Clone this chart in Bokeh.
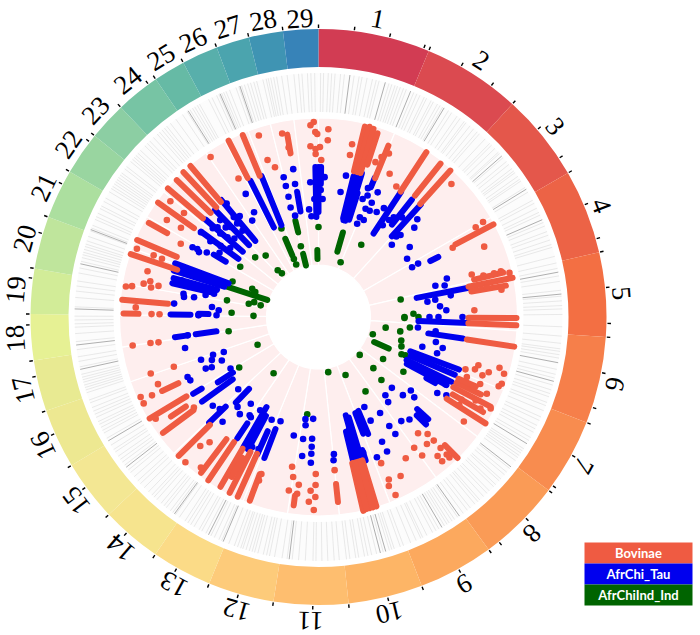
import numpy as np
from bokeh.plotting import figure
from bokeh.models import Range1d
from bokeh.core.properties import value
from bokeh.embed import file_html
from bokeh.resources import INLINE

# Chromosomes: end of each, in degrees clockwise from the top of the circle
chrom_names = [str(i) for i in range(1, 30)]
chrom_end = [22.5,42.3,60,77,94,111.5,127,143.8,159,174,189,202.3,214.5,226.7,239,251,261.3,270.6,279.7,
             290.3,300.3,309,316.7,325.6,332,339.3,346,352.9,360]
chrom_color = ["#D23C53","#DB4A50","#E4574B","#EC6346","#F36F43","#F67F4A","#F88C4F","#FA9B56","#FCA95E","#FDB566",
               "#FEBE6F","#FDCB7A","#FBDB87","#F6E48E","#F3E793","#EDE891","#E8EA92","#E6F194","#D2EC98","#BFE59C",
               "#ACDF9F","#99D5A0","#8CCEA3","#77C4A4","#66BAA5","#58AFAB","#4BA4AE","#3F94B3","#3783B8"]
tick_step = 7.13
label_radius = [304]*27 + [302, 299]

# Density track: positions in degrees
track_light = [0.5,1.2,2.3,3.1,3.9,5.2,6.1,8.4,9.6,10.3,11.5,12.8,13.7,14.4,16.8,17.5,18.3,18.9,19.6,20.4,21.1,23.0,23.8,24.6,
    25.7,26.3,27.5,28.1,29.2,29.9,30.6,32.2,33.1,34.6,35.5,36.7,37.2,38.4,39.5,40.6,41.3,43.1,44.6,45.2,46.3,47.5,47.9,49.2,50.4,
    51.3,52.5,53.2,53.7,54.8,55.6,56.1,57.9,59.2,61.4,62.2,63.5,64.6,65.3,67.2,68.1,69.5,70.4,71.6,72.7,73.4,75.6,77.2,78.5,80.3,
    81.6,83.7,85.1,86.2,87.3,88.1,89.4,92.3,94.5,96.2,97.5,98.1,98.9,99.7,102.4,103.6,104.5,106.2,107.4,108.3,109.1,110.5,111.3,
    112.6,114.2,115.1,116.4,117.3,118.2,119.6,120.4,122.7,123.3,123.9,124.6,125.2,126.1,128.4,129.5,130.3,131.6,132.2,133.4,134.1,
    135.5,136.3,137.4,138.6,139.2,140.1,141.5,142.4,143.6,145.2,146.1,146.8,147.6,148.2,148.9,150.4,151.2,152.1,153.6,154.7,155.2,
    156.4,157.8,159.6,160.4,161.9,162.5,163.1,164.6,166.2,167.4,168.3,169.1,170.5,171.2,172.6,173.4,175.1,176.3,177.8,179.2,180.6,
    181.3,183.1,184.7,186.2,187.4,188.6,190.4,191.6,192.3,193.1,194.4,195.2,195.8,196.5,197.3,198.1,198.6,199.4,200.2,201.6,203.4,
    204.1,205.3,206.2,207.5,208.6,209.3,210.7,211.6,212.4,213.2,214.8,215.9,216.7,217.4,218.6,219.3,220.2,221.5,222.4,223.1,224.2,
    225.6,226.9,227.8,229.1,230.4,231.2,232.6,233.5,234.3,235.2,236.4,237.1,238.3,240.2,241.6,242.3,243.1,243.9,244.6,245.7,246.5,
    247.3,248.2,249.4,250.1,251.9,252.6,253.2,253.8,254.5,255.1,255.7,256.4,258.2,259.5,260.6,262.3,264.2,266.1,267.6,268.4,269.3,
    270.2,272.4,274.6,276.1,277.3,278.5,280.4,281.6,283.2,284.1,284.8,285.4,286.1,286.8,287.4,288.2,289.3,290.7,291.4,292.1,293.6,
    294.3,295.2,296.4,297.1,298.3,299.2,300.9,301.8,302.4,303.1,303.7,304.3,304.9,305.6,306.2,307.4,308.1,309.6,310.3,310.9,311.5,
    312.2,313.1,314.6,315.4,316.2,317.4,318.6,319.3,320.1,320.8,321.5,322.6,324.2,326.1,327.4,328.2,328.9,329.5,330.2,330.8,333.2,
    334.1,335.3,335.9,336.6,337.1,337.7,338.6,340.2,340.9,341.6,342.3,343.1,343.8,344.6,345.3,346.8,347.6,348.1,348.7,349.4,350.1,
    351.3,352.6,354.2,355.3,356.1,357.4,358.2,359.1]
track_dark = [7.4,15.9,22.2,31.0,48.7,58.4,66.5,79.4,84.6,100.8,105.3,121.3,127.9,144.7,149.6,164.0,165.3,186.9,203.0,206.8,
    216.2,232.0,239.5,257.6,263.4,271.9,282.6,291.0,327.7,336.2,341.2]

# Runs of overlapping hits: position (deg), first and last value
red_run_deg =  [13.7,15.0,16.3,17.8,22.2,33.2,38.5,42.0,62.1,78.6,90.3,92.4,98.6,115.5,117.5,122.5,135.4,163.0,165.0,167.0,174.0,187.5,
                200.5,204.2,206.8,210.0,214.0,217.0,225.2,233.3,239.0,244.7,271.0,275.0,288.5,293.0,299.0,305.5,310.5,314.0,317.0,319.7,333.0,337.4,350.3,
                120.0,113.8,80.5,76.5,208.5,236.0,164.0,166.0]
red_run_from = [150,150,150,160,150,150,155,152,155,153,150,150,150,153,152,152,180,150,150,150,168,180,
                168,150,151,152,151,153,153,156,154,155,180,151,149,154,173,153,152,150,150,151,156,153,166,
                155,153,155,160,160,160,150,150]
red_run_to =   [196,197,196,193,185,197,196,197,198,198,198,198,198,180,194,198,198,198,198,199,186,190,
                196,197,197,196,197,195,197,194,197,173,195,197,198,197,194,197,198,197,198,198,198,197,185,
                190,172,190,190,182,178,198,198]
blue_run_deg =  [14.5,15.6,16.8,22.0,33.4,38.5,42.3,63.4,79.0,92.3,98.5,110.5,113.0,116.0,119.5,133.0,135.0,157.0,165.0,164.5,161.8,
                 210.0,213.8,201.0,226.0,224.0,234.0,237.0,238.5,262.0,271.0,262.0,290.5,287.8,283.0,300.8,306.0,310.8,316.0,320.3,333.5,338.0,350.3,358.8,1.0,
                 163.2,166.5,159.0,14.0,17.5,118.0,285.0,289.0,204.0,208.0,271.5,360.0]
blue_run_from = [100,100,105,140,100,118,109,125,100,100,111,98,100,98,124,135,139,102,117,102,140,
                 104,128,120,129,100,106,102,137,103,128,132,96,99,110,108,99,100,100,99,100,99,107,100,133,
                 105,118,103,102,102,100,105,100,125,112,110,105]
blue_run_to =   [150,150,150,150,150,150,152,134,153,150,146,150,148,148,134,150,152,127,148,132,151,
                 150,146,151,152,119,144,120,147,124,148,145,153,152,150,122,145,149,149,152,152,152,127,150,150,
                 150,150,125,145,130,145,150,150,150,150,120,150]
green_run_deg =  [16.1,114.2,288.4,337.0,346.5,346.3,359.0]
green_run_from = [68,61,54,67,87,53,58]
green_run_to =   [88,77,98,85,99,65,67]

# Single hits: position (deg) and value
red_deg = [11,11,3,3,26.4,30.8,20.2,21.5,23.3,45,62.7,60,60.3,67,74.5,75.9,76,75.9,77,80,81.5,87.5,106.8,108,109.6,105.7,107,109.6,110,111,118,125.7,122,
           137,137,137,139.4,139.5,137,137,139.4,139.4,143.8,143.2,148.3,152.7,156.6,157.4,156.6,156.8,
           174,181,181.4,181,182.6,181,183,190,189,186.7,189.7,186.9,200,200,218,222.5,221,222.5,
           234,238,251.4,251,247.3,244.8,245.8,243.7,261.3,261.2,261,273,271,271,
           279,279.4,280.8,281,280,282,290.6,290.5,290.4,285,298,308,302.6,307.7,303,326,341.8,342,343.8,330,350,348.8,358.6,357.6,359.6,359,357.3,359,359,1,0.5,
           112,114,120,118,112.5,108.5,114.5,119.5]
red_val = [176,165,188,177,160,152,165,172,178,188,151,190,181,180,159,170,181,188,196,171,185,156,167,179,174,188,194,156,195,193,195,179,166,
           160,169,179,153,167,188,192,183,190,162,173,166,179,177,183,194,159,
           154,157,193,180,174,168,185,152,162,169,176,178,167,174,191,175,166,197,
           154,192,177,153,174,184,195,195,188,170,162,183,167,159,
           195,189,178,163,170,172,194,176,167,177,156,188,180,170,164,193,191,165,156,160,172,187,195,192,183,185,171,168,163,157,170,
           160,170,165,178,175,165,185,186]
blue_deg = [11,10,21,25.4,20.5,22,25,25.7,29,31,25,22.5,23.5,22.5,52.5,45.3,47,45,45.4,56.7,62,61.8,75,73.3,76,80.7,81.6,82,
            90,90,87,85,90,96,97,106,107,118,122.6,121.5,128.5,130,132.8,134,139.5,140.7,141.5,138.4,147,146.7,147.3,
            173.6,174,153,153.3,153,157.4,161.8,153,183,183,183,183,186.7,187.2,191.8,183,187.3,186.8,
            204.4,207,200,204.5,214,218,222.5,222,227,219,
            271,262,256.9,270.8,271,250,250.3,249.7,245.8,248,245.4,245.4,243.7,244.8,239.6,
            329.4,328.4,325.5,299.3,305,306,300,285,279.8,278.5,279,281,282.6,275.4,273.8,275.3,
            321,314.6,310,314,305.8,299,298.5,350.3,346,346,350,346,345.7,347,
            1,2,2.5,356.5,358,355,356,
            35,36,37,40,44,102,104,212,215,228,230,
            319.7,319,318.6,315.6,310.4,311.2,311.6,313,308,303,322]
blue_val = [144,127,138,138,126,131,126,118,120,127,107,101,118,108,115,139,131,116,103,106,106,113,121,134,130,134,118,110,
            111,120,128,122,144,100,118,108,124,144,141,150,118,125,115,102,103,110,133,137,130,140,114,
            138,144,140,116,101,152,143,151,122,130,137,146,140,123,121,102,103,109,
            145,146,111,113,121,110,142,121,135,125,
            120,132,137,120,102,125,112,101,106,115,124,144,143,118,102,
            143,123,117,139,132,121,129,142,137,136,126,115,107,107,100,145,
            146,138,138,129,145,144,136,150,144,135,135,124,113,104,
            127,118,140,135,118,108,101,
            112,120,125,130,112,120,128,110,120,108,138,
            131,124,115,126,129,121,135,115,112,118,128]
green_deg = [22,30.6,78,90,88,90,90.6,96.6,100,99,107.7,105.8,109.5,114.2,113.8,132.6,123,133,122.8,135,155,170,147.7,
             272.8,261,271,245.5,237.5,218.6,186.6,337,337,337.3,360,313.3,319.3,302.7,318.9,320,292.4,293,291.6,280.3,280.8,283,281.4,346]
green_val = [59,84,84,86,95,100,86,92,83,68,57,86,88,91,95,56,77,75,101,89,64,56,88,
             87,91,65,67,94,72,98,63,57,96,90,87,81,93,62,57,93,72,68,93,71,66,59,73]

legend_names = ["Bovinae", "AfrChi_Tau", "AfrChiInd_Ind"]
legend_colors = ["#EF5B42", "#0000EE", "#006400"]
RED, BLUE, GREEN = legend_colors

def pol(deg, r):
    a = np.radians(np.asarray(deg, float))
    r = np.asarray(r, float)
    return r * np.sin(a), r * np.cos(a)

p = figure(width=700, height=635, output_backend="svg", toolbar_location=None, min_border=0,
           x_range=Range1d(-318, 382), y_range=Range1d(-318.5, 316.5), outline_line_color=None)
p.axis.visible = False
p.grid.visible = False

end = np.array(chrom_end)
start = np.concatenate([[0], end[:-1]])
s_ang, e_ang = np.radians(90 - end), np.radians(90 - start)

# outer ring, track, pink panel
p.annular_wedge(0, 0, inner_radius=250, outer_radius=288, start_angle=s_ang, end_angle=e_ang,
                fill_color=chrom_color, line_color=None)
p.annular_wedge(0, 0, inner_radius=205, outer_radius=244, start_angle=s_ang, end_angle=e_ang,
                fill_color="#FCFCFC", line_color=None)
p.annular_wedge(0, 0, inner_radius=52, outer_radius=199, start_angle=s_ang, end_angle=e_ang,
                fill_color="#FEEEEE", line_color="white", line_width=1.2)

# density track
x0, y0 = pol(track_light, 205); x1, y1 = pol(track_light, 244)
p.segment(x0, y0, x1, y1, line_color="#808080", line_alpha=0.2, line_width=0.8)
x0, y0 = pol(track_dark, 205); x1, y1 = pol(track_dark, 244)
p.segment(x0, y0, x1, y1, line_color="#505050", line_alpha=0.45, line_width=1)

# hits
for rd, rf, rt, d, v, col in [(green_run_deg, green_run_from, green_run_to, green_deg, green_val, GREEN),
                              (blue_run_deg, blue_run_from, blue_run_to, blue_deg, blue_val, BLUE),
                              (red_run_deg, red_run_from, red_run_to, red_deg, red_val, RED)]:
    x0, y0 = pol(rd, rf); x1, y1 = pol(rd, rt)
    p.segment(x0, y0, x1, y1, line_color=col, line_width=6, line_cap="round")
    x, y = pol(d, v)
    p.scatter(x, y, size=6.6, fill_color=col, line_color=None)

# ticks
tk = np.concatenate([np.arange(s, e - 1, tick_step) for s, e in zip(start, end)])
x0, y0 = pol(tk, 289); x1, y1 = pol(tk, 292.5)
p.segment(x0, y0, x1, y1, line_color="black", line_width=1.4)

# chromosome labels
mid = (start + end) / 2
lx, ly = pol(mid, label_radius)
p.text(lx, ly, text=chrom_names, angle=-np.radians(mid), text_align="center", text_baseline="middle",
       text_font=value("Liberation Serif"), text_font_size="27px", text_color="black")

# legend
leg_left, leg_right, leg_top, leg_h = 266, 374, -225.5, 21
for i, (n, c) in enumerate(zip(legend_names, legend_colors)):
    p.quad(left=leg_left, right=leg_right, top=leg_top - i * leg_h, bottom=leg_top - (i + 1) * leg_h,
           fill_color=c, line_color=None)
    p.text([(leg_left + leg_right) / 2], [leg_top - (i + 0.5) * leg_h], text=[n], text_align="center",
           text_baseline="middle", text_font=value("Lato"), text_font_style="bold", text_font_size="13px",
           text_color="white")

open("out.html", "w").write(file_html(p, INLINE))
